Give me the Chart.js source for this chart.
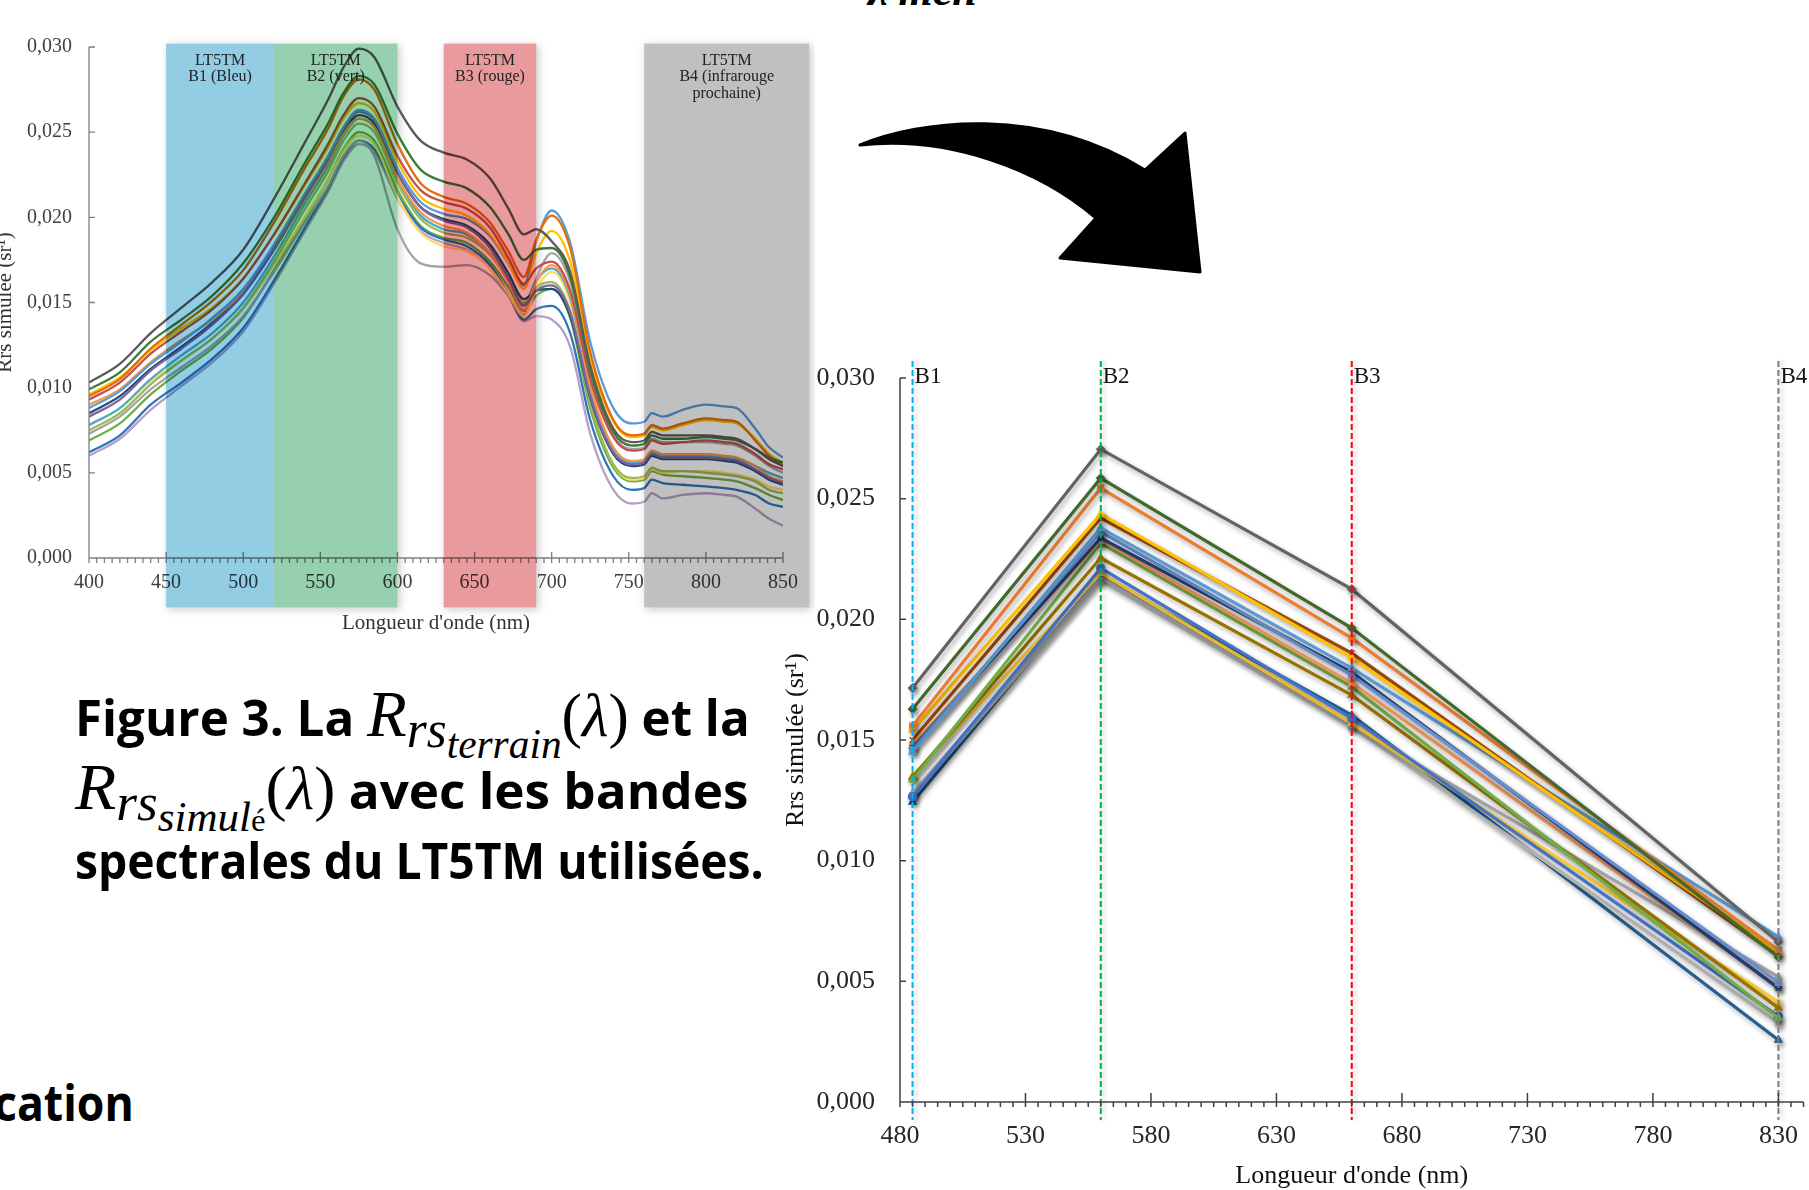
<!DOCTYPE html>
<html lang="fr">
<head>
<meta charset="utf-8">
<title>Rrs simulée et bandes LT5TM</title>
<script src="https://cdn.jsdelivr.net/npm/chart.js@4.4.1/dist/chart.umd.min.js"></script>
<style>
  html, body { margin: 0; padding: 0; background: #fff; }
  body { width: 1809px; height: 1190px; position: relative; overflow: hidden; }
  canvas { position: absolute; }
  #spectra { left: 0; top: 0; }
  #bands { left: 780px; top: 350px; }
  #arrow { position: absolute; left: 0; top: 0; }
  .cap {
    position: absolute; left: 75px; white-space: nowrap; color: #000;
    font-family: 'Open Sans', sans-serif; font-weight: 700; font-size: 50px; line-height: 50px;
    transform-origin: 0 0;
  }
  .cap span { line-height: 0; position: relative; }
  .mR { font: italic 400 66px 'Liberation Serif', serif; }
  .mrs { font: italic 400 52px 'Liberation Serif', serif; top: 11px; }
  .mss { font: italic 400 42px 'Liberation Serif', serif; top: 22px; }
  .mse { font: 400 32px 'Liberation Serif', serif; top: 22px; }
  .mp { font: 400 62px 'Liberation Serif', serif; }
  .mp i { font-style: italic; }
  .cut-top { position: absolute; left: 868px; top: -31px; font: italic 700 44px 'Liberation Serif', serif; line-height: 44px; }
</style>
</head>
<body>

<div class="cut-top">λ mén</div>

<canvas id="spectra" width="815" height="640"></canvas>

<svg id="arrow" width="1809" height="340">
  <path d="M860,145 C920,120 1040,105 1145,170 L1185,133 L1200,272 L1060,258 L1096,218 C1040,170 950,135 860,145 Z"
        fill="#000" stroke="#000" stroke-width="3" stroke-linejoin="round"/>
</svg>

<div class="cap" data-w="675" style="top:692px">Figure 3. La <span class="mR">R</span><span class="mrs">rs</span><span class="mss">terrain</span><span class="mp">(<i>λ</i>)</span> et la</div>
<div class="cap" data-w="673" style="top:765px"><span class="mR">R</span><span class="mrs">rs</span><span class="mss">simul</span><span class="mse">é</span><span class="mp">(<i>λ</i>)</span> avec les bandes</div>
<div class="cap" data-w="689" style="top:835px">spectrales du LT5TM utilisées.</div>
<div class="cap" data-w="140" style="top:1077px; left:-6px">cation</div>

<canvas id="bands" width="1029" height="840"></canvas>

<script>
// ---- shared axis ticks ----
const yTicks = [0, 0.005, 0.010, 0.015, 0.020, 0.025, 0.030];
const yTickLabels = ['0,000', '0,005', '0,010', '0,015', '0,020', '0,025', '0,030'];

// ---- left chart: Rrs terrain spectra ----
const spectraTicks = [400, 450, 500, 550, 600, 650, 700, 750, 800, 850];
const wavelengths = [400, 420, 440, 460, 480, 500, 520, 540, 555, 565, 575, 585, 600, 615, 630, 645, 660, 672, 682, 690,
                     700, 712, 725, 740, 752, 760, 765, 772, 785, 800, 812, 820, 832, 841, 850];

const spec01 = [.0103,.0114,.0132,.0147,.0162,.0181,.0211,.0244,.0269,.0288,.0299,.0294,.0265,.0245,.0238,.0234,.0223,.0205,.0190,.0193,.0186,.0168,.0113,.0076,.0068,.0069,.0074,.0072,.0072,.0072,.0071,.0070,.0064,.0058,.0054];
const spec02 = [.0099,.0109,.0127,.0140,.0154,.0173,.0200,.0232,.0255,.0273,.0283,.0278,.0249,.0228,.0221,.0217,.0206,.0190,.0175,.0181,.0182,.0165,.0110,.0074,.0066,.0067,.0072,.0070,.0070,.0071,.0070,.0069,.0064,.0059,.0056];
const spec03 = [.0095,.0105,.0123,.0137,.0151,.0169,.0197,.0229,.0252,.0271,.0281,.0275,.0243,.0220,.0212,.0208,.0197,.0180,.0165,.0187,.0201,.0182,.0121,.0081,.0072,.0073,.0078,.0076,.0079,.0082,.0081,.0080,.0069,.0060,.0054];
const spec04 = [.0093,.0103,.0120,.0133,.0146,.0164,.0190,.0220,.0243,.0260,.0270,.0265,.0236,.0216,.0209,.0205,.0194,.0176,.0161,.0170,.0174,.0157,.0105,.0071,.0063,.0064,.0069,.0067,.0068,.0069,.0068,.0067,.0061,.0055,.0052];
const spec05 = [.0096,.0106,.0122,.0135,.0147,.0164,.0190,.0219,.0241,.0258,.0267,.0262,.0233,.0212,.0205,.0201,.0190,.0173,.0158,.0179,.0192,.0174,.0117,.0080,.0071,.0072,.0077,.0075,.0078,.0081,.0080,.0079,.0070,.0061,.0056];
const spec06 = [.0088,.0098,.0114,.0127,.0141,.0158,.0184,.0214,.0236,.0253,.0263,.0258,.0229,.0209,.0202,.0199,.0189,.0173,.0160,.0186,.0204,.0185,.0127,.0088,.0079,.0080,.0085,.0083,.0087,.0090,.0089,.0088,.0076,.0065,.0059];
const spec07 = [.0083,.0093,.0110,.0123,.0137,.0155,.0182,.0212,.0234,.0252,.0262,.0257,.0227,.0206,.0198,.0194,.0182,.0164,.0148,.0157,.0160,.0144,.0095,.0062,.0055,.0056,.0061,.0059,.0059,.0059,.0058,.0057,.0052,.0047,.0044];
const spec08 = [.0090,.0099,.0115,.0128,.0140,.0157,.0182,.0211,.0232,.0249,.0258,.0253,.0223,.0203,.0195,.0191,.0179,.0162,.0146,.0162,.0172,.0155,.0101,.0065,.0057,.0058,.0063,.0061,.0061,.0061,.0060,.0059,.0054,.0048,.0045];
const spec09 = [.0085,.0095,.0111,.0124,.0138,.0155,.0181,.0211,.0233,.0250,.0260,.0255,.0226,.0206,.0199,.0195,.0184,.0167,.0152,.0157,.0158,.0142,.0094,.0061,.0054,.0055,.0060,.0058,.0058,.0058,.0057,.0056,.0051,.0046,.0043];
const spec10 = [.0075,.0085,.0102,.0116,.0129,.0147,.0174,.0205,.0227,.0245,.0255,.0250,.0220,.0199,.0191,.0188,.0178,.0163,.0150,.0159,.0162,.0145,.0091,.0055,.0047,.0048,.0053,.0051,.0051,.0050,.0049,.0048,.0045,.0040,.0038];
const spec11 = [.0078,.0088,.0105,.0119,.0132,.0150,.0177,.0208,.0230,.0248,.0258,.0253,.0222,.0201,.0193,.0190,.0179,.0163,.0149,.0163,.0170,.0153,.0099,.0064,.0056,.0057,.0062,.0060,.0060,.0060,.0059,.0058,.0054,.0050,.0047];
const spec12 = [.0078,.0088,.0104,.0116,.0129,.0146,.0172,.0200,.0222,.0239,.0248,.0243,.0212,.0191,.0183,.0180,.0170,.0155,.0142,.0158,.0168,.0150,.0092,.0055,.0046,.0047,.0052,.0050,.0051,.0051,.0050,.0049,.0046,.0042,.0040];
const spec13 = [.0073,.0083,.0099,.0112,.0125,.0142,.0168,.0197,.0218,.0236,.0245,.0236,.0193,.0173,.0171,.0172,.0166,.0154,.0143,.0164,.0179,.0162,.0108,.0072,.0064,.0065,.0070,.0068,.0068,.0068,.0067,.0066,.0060,.0054,.0050];
const spec14 = [.0062,.0072,.0090,.0103,.0117,.0135,.0163,.0194,.0217,.0235,.0245,.0240,.0213,.0194,.0187,.0183,.0172,.0155,.0140,.0146,.0148,.0132,.0081,.0048,.0040,.0041,.0046,.0044,.0043,.0042,.0041,.0040,.0037,.0032,.0030];
const spec15 = [.0069,.0079,.0096,.0110,.0123,.0141,.0169,.0199,.0222,.0240,.0250,.0245,.0216,.0195,.0188,.0185,.0174,.0159,.0145,.0154,.0158,.0141,.0088,.0053,.0045,.0046,.0051,.0049,.0048,.0047,.0046,.0045,.0041,.0037,.0034];
const spec16 = [.0060,.0070,.0087,.0101,.0115,.0133,.0161,.0192,.0215,.0233,.0243,.0238,.0211,.0192,.0185,.0181,.0170,.0154,.0139,.0142,.0140,.0124,.0073,.0040,.0032,.0033,.0038,.0035,.0037,.0038,.0037,.0036,.0029,.0023,.0019];
const spectra = [spec01, spec02, spec03, spec04, spec05, spec06, spec07, spec08, spec09, spec10, spec11, spec12, spec13, spec14, spec15, spec16];
const spectraColors = ['#5a5a5a', '#3d7a3a', '#e46c0a', '#c0504d', '#ffc000', '#5b9bd5', '#8064a2', '#f79646',
                       '#1f4e79', '#9bbb59', '#4bacc6', '#ffd966', '#a5a5a5', '#2e75b6', '#70ad47', '#b7a0c8'];

// LT5TM band rectangles (nm) and their labels
const tmStart = [450, 520, 630, 760];
const tmEnd = [520, 600, 690, 867];
const tmText = [['LT5TM', 'B1 (Bleu)'], ['LT5TM', 'B2 (vert)'], ['LT5TM', 'B3 (rouge)'], ['LT5TM', 'B4 (infrarouge', 'prochaine)']];

// ---- right chart: simulated Rrs at the band centres ----
const bandCentres = [485, 560, 660, 830];
const bandNames = ['B1', 'B2', 'B3', 'B4'];
const bandTicks = [480, 530, 580, 630, 680, 730, 780, 830];

const sim01 = [0.01715, 0.02705, 0.02125, 0.00663];
const sim02 = [0.01628, 0.02585, 0.01964, 0.00601];
const sim03 = [0.01558, 0.02544, 0.01922, 0.00630];
const sim04 = [0.01541, 0.02436, 0.01840, 0.00621];
const sim05 = [0.01500, 0.02420, 0.01860, 0.00605];
const sim06 = [0.01450, 0.02378, 0.01798, 0.00684];
const sim07 = [0.01460, 0.02362, 0.01769, 0.00495];
const sim08 = [0.01467, 0.02337, 0.01780, 0.00472];
const sim09 = [0.01479, 0.02328, 0.01736, 0.00476];
const sim10 = [0.01334, 0.02316, 0.01720, 0.00348];
const sim11 = [0.01346, 0.02254, 0.01686, 0.00390];
const sim12 = [0.01265, 0.02212, 0.01590, 0.00355];
const sim13 = [0.01350, 0.02192, 0.01570, 0.00414];
const sim14 = [0.01280, 0.02175, 0.01560, 0.00518];
const sim15 = [0.01270, 0.02163, 0.01554, 0.00327];
const sim16 = [0.01243, 0.02180, 0.01603, 0.00257];
const simulated = [sim01, sim02, sim03, sim04, sim05, sim06, sim07, sim08, sim09, sim10, sim11, sim12, sim13, sim14, sim15, sim16];
const simColors = ['#636363', '#43682b', '#ed7d31', '#ffc000', '#9e480e', '#5b9bd5', '#698ed0', '#264478',
                   '#f1975a', '#70ad47', '#997300', '#4472c4', '#ffcd33', '#a5a5a5', '#b7b7b7', '#255e91'];
const simMarkers = ['rectRot', 'rectRot', 'rect', 'triangle', 'crossRot', 'triangle', 'rect', 'star',
                    'rect', 'triangle', 'triangle', 'circle', 'triangle', 'triangle', 'rect', 'triangle'];

Chart.defaults.font.family = "'Liberation Serif', 'Times New Roman', serif";
Chart.defaults.color = '#404040';

// axis lines + Excel-like ticks (major crossing, minor outside, y ticks inside)
const excelAxes = {
  id: 'excelAxes',
  afterDatasetsDraw(chart, args, o) {
    const { ctx, chartArea: a, scales: { x, y } } = chart;
    ctx.save();
    ctx.strokeStyle = o.color;
    ctx.lineWidth = o.width;
    ctx.beginPath();
    ctx.moveTo(a.left, a.top);
    ctx.lineTo(a.left, a.bottom);
    ctx.lineTo(a.right, a.bottom);
    for (let v = x.min; v <= x.max; v += o.minorStep) {
      const px = x.getPixelForValue(v);
      ctx.moveTo(px, a.bottom);
      ctx.lineTo(px, a.bottom + o.minorLen);
    }
    x.ticks.forEach((t) => {
      const px = x.getPixelForValue(t.value);
      ctx.moveTo(px, a.bottom - o.majorUp);
      ctx.lineTo(px, a.bottom + o.majorDown);
    });
    y.ticks.forEach((t) => {
      const py = y.getPixelForValue(t.value);
      ctx.moveTo(a.left, py);
      ctx.lineTo(a.left + o.yLen, py);
    });
    ctx.stroke();
    ctx.restore();
  },
};

const axisTitles = {
  id: 'axisTitles',
  afterDraw(chart, args, o) {
    const { ctx, chartArea: a } = chart;
    ctx.save();
    ctx.fillStyle = o.color;
    ctx.font = o.font;
    ctx.textAlign = 'center';
    ctx.textBaseline = 'middle';
    ctx.fillText(o.xText, (a.left + a.right) / 2, o.xY);
    ctx.translate(o.yX, (a.top + a.bottom) / 2);
    ctx.rotate(-Math.PI / 2);
    ctx.textBaseline = o.yBaseline;
    ctx.fillText(o.yText, 0, 0);
    ctx.restore();
  },
};

// coloured LT5TM bands: white shadowed cards behind, then a multiply tint over the finished plot
function bandRects(chart, o) {
  const { scales: { x, y } } = chart;
  const top = y.getPixelForValue(o.top);
  const bottom = y.getPixelForValue(o.bottom);
  return tmStart.map((s, i) => {
    const l = x.getPixelForValue(s);
    return [l, top, x.getPixelForValue(tmEnd[i]) - l, bottom - top];
  });
}
const tmBands = {
  id: 'tmBands',
  beforeDatasetsDraw(chart, args, o) {
    const { ctx } = chart;
    const rects = bandRects(chart, o);
    ctx.save();
    ctx.globalCompositeOperation = 'destination-over';
    ctx.fillStyle = '#fff';
    rects.forEach((r) => ctx.fillRect(...r));
    ctx.fillStyle = 'rgba(0,0,0,0.22)';
    ctx.filter = 'blur(4px)';
    rects.forEach((r) => ctx.fillRect(r[0] + 2, r[1] + 2, r[2], r[3]));
    ctx.restore();
  },
  afterDraw(chart, args, o) {
    const { ctx } = chart;
    const rects = bandRects(chart, o);
    ctx.save();
    ctx.globalCompositeOperation = 'multiply';
    rects.forEach((r, i) => {
      ctx.fillStyle = o.colors[i];
      ctx.fillRect(...r);
    });
    ctx.restore();
    ctx.save();
    ctx.fillStyle = '#222';
    ctx.font = "16px 'Liberation Serif'";
    ctx.textAlign = 'center';
    ctx.textBaseline = 'middle';
    rects.forEach((r, i) => {
      const cx = r[0] + r[2] / 2;
      tmText[i].forEach((t, k) => ctx.fillText(t, cx, r[1] + 17 + k * 16.5));
    });
    ctx.restore();
  },
};

const lineShadow = {
  id: 'lineShadow',
  beforeDatasetDraw(chart, args, o) {
    const c = chart.ctx;
    c.save();
    c.shadowColor = o.color;
    c.shadowBlur = o.blur;
    c.shadowOffsetX = o.dx;
    c.shadowOffsetY = o.dy;
  },
  afterDatasetDraw(chart) {
    chart.ctx.restore();
  },
};

const bandMarkers = {
  id: 'bandMarkers',
  afterDatasetsDraw(chart, args, o) {
    const { ctx, chartArea: a, scales: { x, y } } = chart;
    const top = y.getPixelForValue(o.top);
    const bottom = y.getPixelForValue(o.bottom);
    bandCentres.forEach((wl, i) => {
      const px = x.getPixelForValue(wl);
      ctx.save();
      ctx.shadowColor = 'rgba(0,0,0,0.25)';
      ctx.shadowBlur = 4;
      ctx.shadowOffsetX = 3;
      ctx.strokeStyle = o.colors[i];
      ctx.lineWidth = 2;
      ctx.setLineDash([6, 3]);
      ctx.beginPath();
      ctx.moveTo(px, top);
      ctx.lineTo(px, bottom);
      ctx.stroke();
      ctx.restore();
      ctx.save();
      ctx.fillStyle = '#111';
      ctx.font = "23px 'Liberation Serif'";
      ctx.textBaseline = 'alphabetic';
      ctx.fillText(bandNames[i], px + 2, a.top + 5);
      ctx.restore();
    });
  },
};

const setTicks = (values) => (scale) => { scale.ticks = values.map((v) => ({ value: v })); };
// fixed axis box, no extra padding for edge labels, so the plot area lands where it is in the figure
const fixBox = (size) => (s) => {
  if (s.isHorizontal()) s.height = size; else s.width = size;
  s.paddingTop = 0; s.paddingBottom = 0; s.paddingLeft = 0; s.paddingRight = 0;
};

new Chart(document.getElementById('spectra'), {
  type: 'line',
  data: {
    datasets: spectra.map((vals, i) => ({
      data: wavelengths.map((w, k) => ({ x: w, y: vals[k] })),
      borderColor: spectraColors[i],
      borderWidth: 2.3,
      pointRadius: 0,
      cubicInterpolationMode: 'monotone',
      fill: false,
    })),
  },
  options: {
    responsive: false,
    animation: false,
    devicePixelRatio: 1,
    layout: { padding: { top: 47, right: 32, left: 0, bottom: 0 } },
    plugins: {
      legend: { display: false },
      tooltip: { enabled: false },
      excelAxes: { color: '#7f7f7f', width: 1.3, minorStep: 5, minorLen: 5, majorUp: 6, majorDown: 5, yLen: 6 },
      axisTitles: { color: '#333', font: "21px 'Liberation Serif'", xText: "Longueur d'onde (nm)", xY: 623,
                    yText: 'Rrs simulée (sr¹)', yX: 11, yBaseline: 'alphabetic' },
      tmBands: { top: 0.0302, bottom: -0.0029, colors: ['#93cde3', '#97d0ae', '#e99a9c', '#c0c0c0'] },
    },
    scales: {
      x: {
        type: 'linear', min: 400, max: 850,
        afterBuildTicks: setTicks(spectraTicks),
        afterFit: fixBox(82),
        grid: { display: false, drawTicks: false },
        border: { display: false },
        ticks: { padding: 13, maxRotation: 0, autoSkip: false, font: { size: 20 }, color: '#404040' },
      },
      y: {
        min: 0, max: 0.030,
        afterBuildTicks: setTicks(yTicks),
        afterFit: fixBox(89),
        grid: { display: false, drawTicks: false },
        border: { display: false },
        ticks: { padding: 17, font: { size: 20 }, color: '#404040', callback: (v, i) => yTickLabels[i] },
      },
    },
  },
  plugins: [tmBands, excelAxes, axisTitles],
});

new Chart(document.getElementById('bands'), {
  type: 'line',
  data: {
    datasets: simulated.map((vals, i) => ({
      data: bandCentres.map((w, k) => ({ x: w, y: vals[k] })),
      borderColor: simColors[i],
      backgroundColor: simColors[i],
      borderWidth: 3.2,
      pointStyle: simMarkers[i],
      pointRadius: 4,
      pointBorderWidth: 1.5,
      tension: 0,
      fill: false,
    })),
  },
  options: {
    responsive: false,
    animation: false,
    devicePixelRatio: 1,
    layout: { padding: { top: 28, right: 4, left: 0, bottom: 0 } },
    plugins: {
      legend: { display: false },
      tooltip: { enabled: false },
      lineShadow: { color: 'rgba(0,0,0,0.33)', blur: 5, dx: 2, dy: 3 },
      excelAxes: { color: '#404040', width: 1.5, minorStep: 5, minorLen: 5, majorUp: 9, majorDown: 5, yLen: 6 },
      bandMarkers: { top: 0.0307, bottom: -0.00075, colors: ['#00b0f0', '#00b050', '#ff0000', '#7f7f7f'] },
      axisTitles: { color: '#111', font: "26px 'Liberation Serif'", xText: "Longueur d'onde (nm)", xY: 826,
                    yText: 'Rrs simulée (sr¹)', yX: 16, yBaseline: 'middle' },
    },
    scales: {
      x: {
        type: 'linear', min: 480, max: 840,
        afterBuildTicks: setTicks(bandTicks),
        afterFit: fixBox(88),
        grid: { display: false, drawTicks: false },
        border: { display: false },
        ticks: { padding: 19, maxRotation: 0, autoSkip: false, font: { size: 26 }, color: '#262626' },
      },
      y: {
        min: 0, max: 0.030,
        afterBuildTicks: setTicks(yTicks),
        afterFit: fixBox(120),
        grid: { display: false, drawTicks: false },
        border: { display: false },
        ticks: { padding: 25, font: { size: 26 }, color: '#262626', callback: (v, i) => yTickLabels[i] },
      },
    },
  },
  plugins: [lineShadow, bandMarkers, excelAxes, axisTitles],
});

// squeeze the caption lines to the widths they have in the figure
function fitCaptions() {
  document.querySelectorAll('.cap[data-w]').forEach((el) => {
    el.style.transform = 'none';
    const w = el.offsetWidth;
    if (w) el.style.transform = `scaleX(${el.dataset.w / w})`;
  });
}
fitCaptions();
if (document.fonts) document.fonts.ready.then(fitCaptions);
</script>
</body>
</html>
